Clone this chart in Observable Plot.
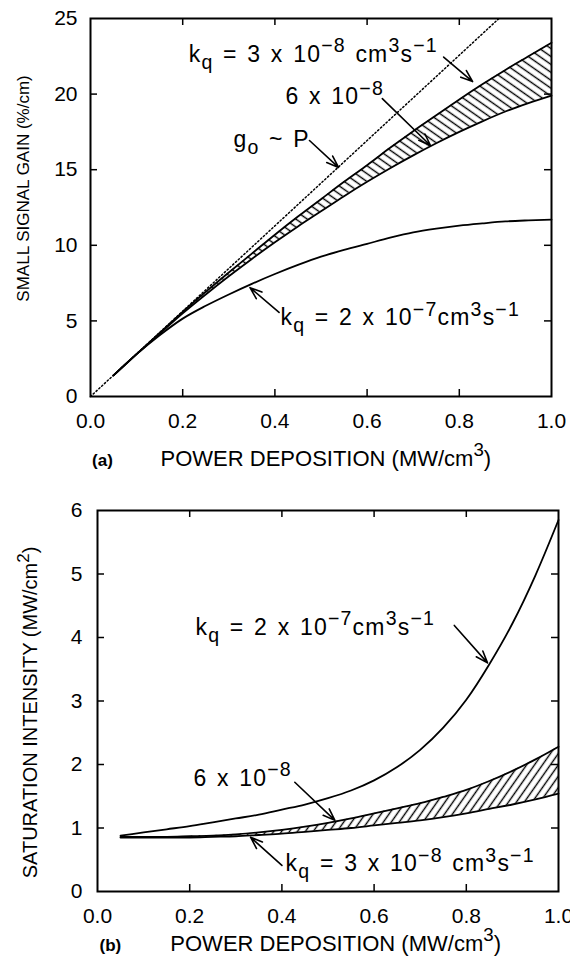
<!DOCTYPE html>
<html><head><meta charset="utf-8">
<script src="https://cdn.jsdelivr.net/npm/d3@7"></script>
<script src="https://cdn.jsdelivr.net/npm/@observablehq/plot@0.6"></script>
<style>
body{margin:0;background:#fff;}
#chart{width:570px;}
#chart svg{display:block;}
</style></head><body><div id="chart"></div>
<script>
// ---------- data ----------
const power = [0.05,0.10,0.15,0.20,0.25,0.30,0.35,0.40,0.45,0.50,0.55,0.60,0.65,0.70,0.75,0.80,0.85,0.90,0.95,1.00];
// (a) small signal gain (%/cm)
const gainKq3e8 = [1.4,2.8,4.2,5.6,6.92,8.2,9.45,10.7,11.9,13.05,14.2,15.3,16.45,17.55,18.6,19.65,20.65,21.6,22.5,23.4];
const gainKq6e8 = [1.4,2.8,4.15,5.5,6.75,7.95,9.1,10.2,11.25,12.25,13.25,14.2,15.1,15.95,16.75,17.5,18.2,18.85,19.4,19.9];
const gainKq2e7 = [1.4,2.8,4.05,5.15,6.0,6.75,7.45,8.1,8.7,9.25,9.7,10.1,10.5,10.85,11.1,11.3,11.45,11.58,11.65,11.7];
const linearP = [0, 0.886];
const linearGain = [0, 25];
// (b) saturation intensity (MW/cm2)
const satKq2e7 = [0.88,0.93,0.98,1.03,1.09,1.15,1.21,1.29,1.37,1.47,1.59,1.75,1.96,2.23,2.58,3.02,3.58,4.22,4.98,5.85];
const satKq6e8 = [0.86,0.86,0.86,0.87,0.88,0.9,0.93,0.97,1.02,1.08,1.15,1.23,1.31,1.39,1.49,1.6,1.74,1.9,2.08,2.28];
const satKq3e8 = [0.85,0.85,0.85,0.85,0.86,0.87,0.89,0.91,0.94,0.97,1.0,1.04,1.08,1.12,1.17,1.23,1.3,1.37,1.45,1.54];
// ticks
const xTicks = [0,0.2,0.4,0.6,0.8,1.0];
const gainTicks = [0,5,10,15,20,25];
const satTicks = [0,1,2,3,4,5,6];
// annotations (data coordinates)
const labelsA = [
  {t:"k_{q} = 3 x 10^{−8} cm^{3}s^{−1}", x:0.213, y:22.6},
  {t:"6 x 10^{−8}", x:0.423, y:19.8},
  {t:"g_{o} ~ P", x:0.31, y:17.0},
  {t:"k_{q} = 2 x 10^{−7}cm^{3}s^{−1}", x:0.412, y:5.2}
];
const arrowsA = [
  {x1:0.766, y1:22.45, x2:0.829, y2:20.83},
  {x1:0.633, y1:19.7, x2:0.7375, y2:16.6},
  {x1:0.475, y1:16.93, x2:0.538, y2:15.15},
  {x1:0.409, y1:5.56, x2:0.346, y2:7.2}
];
const labelsB = [
  {t:"k_{q} = 2 x 10^{−7}cm^{3}s^{−1}", x:0.2126, y:4.16},
  {t:"6 x 10^{−8}", x:0.208, y:1.775},
  {t:"k_{q} = 3 x 10^{−8} cm^{3}s^{−1}", x:0.408, y:0.435}
];
const arrowsB = [
  {x1:0.774, y1:4.19, x2:0.846, y2:3.6},
  {x1:0.428, y1:1.72, x2:0.515, y2:1.12},
  {x1:0.40, y1:0.41, x2:0.332, y2:0.855}
];
const xTitle = "POWER DEPOSITION (MW/cm^{3})";
const yTitleA = "SMALL SIGNAL GAIN (%/cm)";
const yTitleB = "SATURATION INTENSITY (MW/cm^{2})";

// ---------- helpers ----------
function hatchDefs(id, angle, spacing, sw) {
  return () => {
    const defs = d3.create("svg:defs");
    const p = defs.append("pattern").attr("id", id).attr("patternUnits", "userSpaceOnUse")
      .attr("width", spacing).attr("height", spacing).attr("patternTransform", `rotate(${angle})`);
    p.append("line").attr("x1", -1).attr("x2", spacing + 1).attr("y1", spacing / 2).attr("y2", spacing / 2)
      .attr("stroke", "black").attr("stroke-width", sw);
    return defs.node();
  };
}
const annotationTexts = new Set([...labelsA, ...labelsB].map(d => d.t));
function richText(root) {
  root.querySelectorAll("text").forEach(el => {
    const src = el.textContent;
    if (annotationTexts.has(src)) {
      el.style.letterSpacing = "1.2px";
      el.style.wordSpacing = "2px";
    }
    if (!/[_^]\{/.test(src)) return;
    const fs = parseFloat(getComputedStyle(el).fontSize) || 20;
    while (el.firstChild) el.removeChild(el.firstChild);
    let shift = 0, m;
    const re = /([_^])\{([^}]*)\}|([^_^]+)/g;
    while ((m = re.exec(src))) {
      const ts = document.createElementNS("http://www.w3.org/2000/svg", "tspan");
      let target = 0, size = null, txt;
      if (m[1]) { target = m[1] === "^" ? -0.42 * fs : 0.3 * fs; size = 0.85 * fs; txt = m[2]; }
      else txt = m[3];
      const dy = target - shift;
      if (dy) ts.setAttribute("dy", dy.toFixed(2));
      if (size) ts.setAttribute("font-size", size.toFixed(2));
      ts.textContent = txt;
      el.appendChild(ts);
      shift = target;
    }
  });
}
const W = 570;
const FONT = "'Liberation Sans', Arial, Helvetica, sans-serif";

function panel(o) {
  const fh = o.H - o.mt - o.mb, fw = W - o.ml - o.mr;
  const yMax = o.yTicks[o.yTicks.length - 1];
  const tLen = 7, ty = yMax * tLen / fh, tx = tLen / fw;
  const inX = xTicks.slice(1, -1), inY = o.yTicks.slice(1, -1);
  const tick = {stroke: "black", strokeWidth: 1.5};
  return Plot.plot({
    width: W, height: o.H, marginTop: o.mt, marginBottom: o.mb, marginLeft: o.ml, marginRight: o.mr,
    style: {fontFamily: FONT, fontSize: "21px", color: "black", background: "white", overflow: "visible"},
    x: {domain: [0, 1]},
    y: {domain: [0, yMax]},
    marks: [
      hatchDefs(o.hatchId, o.hatchAngle, 6.5, 1.4),
      Plot.areaY(o.series, {x: "p", y1: "lo", y2: "hi", fill: `url(#${o.hatchId})`, curve: "monotone-x"}),
      ...(o.dotted ? [Plot.line(o.dotted, {x: "p", y: "v", stroke: "black", strokeWidth: 1.5, strokeDasharray: "1.4 2.4"})] : []),
      Plot.line(o.series, {x: "p", y: "hi", stroke: "black", strokeWidth: 1.8, curve: "monotone-x"}),
      Plot.line(o.series, {x: "p", y: "lo", stroke: "black", strokeWidth: 1.8, curve: "monotone-x"}),
      Plot.line(o.series, {x: "p", y: "other", stroke: "black", strokeWidth: 1.8, curve: "monotone-x"}),
      Plot.ruleX(inX, {x: d => d, y1: 0, y2: ty, ...tick}),
      Plot.ruleX(inX, {x: d => d, y1: yMax - ty, y2: yMax, ...tick}),
      Plot.ruleY(inY, {y: d => d, x1: 0, x2: tx, ...tick}),
      Plot.ruleY(inY, {y: d => d, x1: 1 - tx, x2: 1, ...tick}),
      Plot.frame({stroke: "black", strokeWidth: 2}),
      Plot.axisX({ticks: xTicks, tickSize: 0, tickPadding: 17, tickFormat: d3.format(".1f"), label: null, fontSize: 21}),
      Plot.axisY({ticks: o.yTicks, tickSize: 0, tickPadding: o.yPad, tickFormat: d => String(d), label: null, fontSize: 21}),
      Plot.arrow(o.arrows, {x1: "x1", y1: "y1", x2: "x2", y2: "y2", stroke: "black", strokeWidth: 1.6, headLength: 12, headAngle: 40}),
      Plot.text(o.labels, {x: "x", y: "y", text: "t", textAnchor: "start", fontSize: 23}),
      Plot.text([{t: o.tag, x: o.tagX}], {x: "x", text: "t", frameAnchor: "bottom", dy: o.titleDy, fontWeight: "bold", fontSize: 17}),
      Plot.text([{t: xTitle, x: o.titleX}], {x: "x", text: "t", frameAnchor: "bottom", dy: o.titleDy, textAnchor: "start", fontSize: 22}),
      Plot.text([{t: o.yTitle, y: o.yTitleY}], {y: "y", text: "t", frameAnchor: "left", textAnchor: "middle", rotate: -90, dx: o.yTitleDx, fontSize: o.yTitleSize})
    ]
  });
}

const seriesA = power.map((p, i) => ({p, hi: gainKq3e8[i], lo: gainKq6e8[i], other: gainKq2e7[i]}));
const dottedA = linearP.map((p, i) => ({p, v: linearGain[i]}));
const seriesB = power.map((p, i) => ({p, hi: satKq6e8[i], lo: satKq3e8[i], other: satKq2e7[i]}));

const chart = document.getElementById("chart");
chart.append(panel({
  H: 480, mt: 18, mb: 84, ml: 90, mr: 19, yTicks: gainTicks, yPad: 13,
  series: seriesA, dotted: dottedA, hatchId: "hatchA", hatchAngle: 35,
  arrows: arrowsA, labels: labelsA, tag: "(a)", tagX: 0.026, titleX: 0.152, titleDy: 69,
  yTitle: yTitleA, yTitleY: 13.76, yTitleDx: -67, yTitleSize: 17
}));
chart.append(panel({
  H: 483, mt: 30, mb: 72, ml: 97, mr: 12, yTicks: satTicks, yPad: 15,
  series: seriesB, dotted: null, hatchId: "hatchB", hatchAngle: -55,
  arrows: arrowsB, labels: labelsB, tag: "(b)", tagX: 0.028, titleX: 0.158, titleDy: 59,
  yTitle: yTitleB, yTitleY: 2.82, yTitleDx: -67, yTitleSize: 20
}));
richText(chart);
</script>
</body></html>
